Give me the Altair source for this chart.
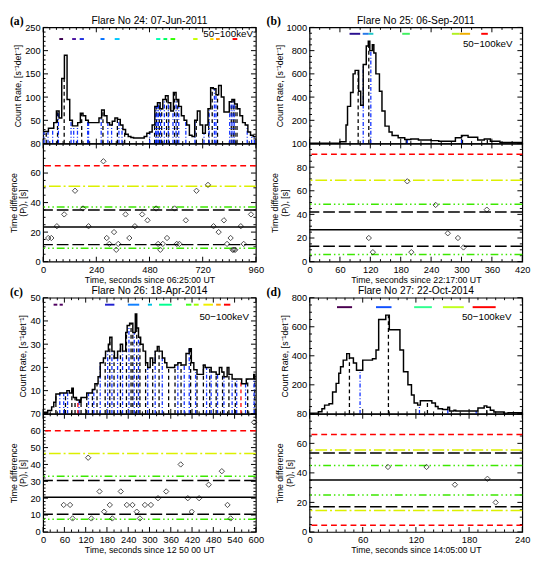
import bisect
import altair as alt
import pandas as pd

FONT = "Liberation Sans"
W = 218
HT = 119
HB = 121
GAP = 37

# ---------------- Panel (a) ----------------
a_title = "Flare No 24: 07-Jun-2011"
a_xlabel = "Time, seconds since 06:25:00 UT"
a_t = list(range(0, 960, 12))
a_rate = [26, 26, 33, 33, 45, 70, 55, 140, 190, 95,
          50, 38, 38, 45, 65, 60, 50, 45, 45, 45,
          45, 55, 72, 60, 45, 40, 48, 55, 52, 40,
          30, 20, 15, 13, 12, 12, 12, 12, 15, 22,
          25, 40, 80, 88, 75, 95, 103, 88, 70, 110,
          95, 80, 60, 50, 40, 18, 15, 50, 70, 40,
          22, 40, 75, 120, 118, 105, 125, 100, 68, 68,
          90, 95, 85, 75, 60, 45, 40, 25, 18, 15]
a_black = [14, 65, 95, 174, 270, 335, 368, 503, 512, 524, 535, 557, 567, 593, 605,
           691, 747, 763, 787, 849, 858, 866, 875]
a_blue = [4, 22, 43, 69, 126, 138, 155, 201, 205, 262, 292, 309, 342, 356, 481, 508,
          514, 520, 530, 547, 565, 586, 600, 612, 644, 685, 726, 749, 773, 780, 842,
          852, 862, 921, 941, 953]
a_red = []
a_seg_t0 = [73, 131, 165, 259, 323, 510, 543, 575, 677, 754, 780, 855]
a_seg_t1 = [90, 148, 184, 277, 345, 529, 560, 596, 697, 769, 797, 876]
a_seg_c = ["#3c0050", "#4a10a0", "#2030e0", "#0070ff", "#00c8ff", "#00ffb0",
           "#00ff60", "#30ff00", "#c8ff00", "#ffe000", "#ff9800", "#ff0000"]
a_seg_lvl = 225
a_pt_t = [23, 37, 62, 95, 144, 180, 205, 272, 287, 299, 320, 330, 339, 372, 389, 414,
          447, 471, 510, 519, 529, 540, 559, 593, 603, 615, 644, 692, 744, 769, 792,
          816, 830, 846, 855, 861, 867, 892, 905, 938]
a_pt_v = [16, 16, 24, 32, 48, 36, 24, 68, 16, 12, 20, 8, 12, 32, 16, 24,
          32, 28, 36, 12, 8, 12, 16, 36, 12, 12, 28, 48, 52, 24, 20,
          28, 12, 16, 8, 8, 8, 24, 12, 32]
a_hl_v = [65, 51, 37, 35, 23.5, 11.5, 9]
a_hl_c = ["red", "yellow", "green", "black", "black", "black", "green"]
a_hl_s = ["dash", "dashdot", "dash3dot", "longdash", "solid", "longdash", "dash3dot"]

# ---------------- Panel (b) ----------------
b_title = "Flare No 25: 06-Sep-2011"
b_xlabel = "Time, seconds since 22:17:00 UT"
b_t = [0, 60, 72, 75, 81, 86, 90, 97, 101, 106, 112, 116, 119, 124, 127, 131, 138,
       143, 149, 157, 163, 175, 188, 200, 215, 240, 255, 288, 300, 313, 332, 345, 357, 376]
b_rate = [3, 15, 160, 320, 440, 600, 630, 450, 330, 680, 840, 880, 800, 850, 780, 600,
          450, 280, 150, 100, 70, 50, 35, 40, 30, 25, 20, 50, 70, 55, 30, 40, 20, 10]
b_black = [96, 117, 191, 302, 351]
b_blue = [106, 121, 193, 300]
b_red = []
b_seg_t0 = [79, 105, 117, 183, 281, 296, 339]
b_seg_t1 = [100, 117, 126, 198, 296, 317, 352]
b_seg_c = ["#2a1090", "#2878e8", "#20c8c8", "#40f060", "#b0f020", "#f0b000", "#ff0000"]
b_seg_lvl = 945
b_pt_t = [117, 125, 193, 201, 249, 273, 293, 304, 350]
b_pt_v = [20, 8, 68, 8, 48, 24, 20, 12, 44]
b_hl_v = [91, 69, 48.5, 42, 27, 13, 6]
b_hl_c = ["red", "yellow", "green", "black", "black", "black", "green"]
b_hl_s = ["dash", "dashdot", "dash3dot", "longdash", "solid", "longdash", "dash3dot"]

# ---------------- Panel (c) ----------------
c_title = "Flare No 26: 18-Apr-2014"
c_xlabel = "Time, seconds since 12 50 00 UT"
c_t = [0, 13, 24, 30, 36, 47, 67, 74, 81, 85, 94, 103, 107, 123, 139, 146, 155, 161,
       170, 176, 184, 188, 194, 201, 210, 218, 224, 233, 237, 244, 253, 260, 264, 269,
       275, 282, 289, 295, 302, 309, 316, 322, 327, 336, 343, 349, 371, 380, 389, 403,
       412, 418, 425, 434, 452, 457, 474, 488, 497, 504, 510, 519, 524, 533, 560, 573,
       594, 597]
c_rate = [0.7, 1.4, 3, 5, 8.5, 9, 10, 9, 11, 7, 6, 5, 7, 9, 10.5, 13, 16, 22,
          24, 27, 30, 33, 27, 24, 27, 30, 27, 35, 38, 39, 35, 43, 37, 33,
          30, 27, 22, 20, 24, 22, 27, 29, 27, 24, 22, 20, 21, 22, 21, 26,
          28, 22, 19, 17, 21, 20, 18, 17, 20, 18, 16, 20, 17, 15, 13, 15,
          17, 15]
c_black = [36, 63, 81, 90, 107, 123, 139, 152, 175, 188, 200, 218, 235, 248, 253, 264,
           273, 289, 309, 327, 354, 372, 389, 416, 434, 452, 470, 488, 506, 524, 542,
           577, 597]
c_blue = [47, 58, 69, 101, 128, 143, 161, 182, 194, 210, 224, 242, 257, 269, 295, 316,
          336, 380, 398, 412, 430, 461, 474, 492, 510, 533, 546, 571, 595]
c_red = [98, 558]
c_seg_t0 = [29.5, 46.5, 174.6, 239, 295.4, 327, 403, 425, 452, 488, 510]
c_seg_t1 = [40, 55.5, 201, 271, 307, 362.6, 418, 438.7, 479, 501, 528]
c_seg_c = ["#500060", "#500060", "#2020d0", "#1080ff", "#00c0e0", "#00ff90",
           "#40ff20", "#a0ff00", "#f0f000", "#ffa000", "#ff0000"]
c_seg_lvl = 47
c_pt_t = [58, 76, 83, 127, 136, 159, 172, 188, 195, 219, 236, 252, 264, 273, 287, 304,
          324, 347, 388, 408, 419, 440, 467, 504, 520, 529, 595]
c_pt_v = [16, 16, 8, 44, 8, 24, 12, 16, 8, 24, 16, 16, 12, 8, 16, 16,
          20, 24, 40, 20, 12, 20, 28, 36, 16, 8, 65]
c_hl_v = [60, 46.5, 33, 30.5, 20.5, 10.5, 7.5]
c_hl_c = ["red", "yellow", "green", "black", "black", "black", "green"]
c_hl_s = ["dash", "dashdot", "dash3dot", "longdash", "solid", "longdash", "dash3dot"]

# ---------------- Panel (d) ----------------
d_title = "Flare No 27: 22-Oct-2014"
d_xlabel = "Time, seconds since 14:05:00 UT"
d_t = [0, 10, 14, 17, 22, 26, 30, 33, 35, 38, 42, 45, 49.5, 53, 60, 71, 75, 78, 86, 90,
       102, 106, 111, 115, 118, 122, 125, 138, 142, 145, 150, 156, 158, 163, 165, 190,
       197, 200, 204, 208, 219, 224]
d_rate = [5, 15, 35, 60, 70, 150, 210, 280, 325, 370, 415, 385, 350, 300, 370, 380,
          440, 650, 680, 580, 440, 290, 200, 130, 75, 60, 90, 75, 50, 35, 30, 45, 20,
          25, 20, 40, 55, 45, 25, 12, 5, 8]
d_black = [45, 89, 133, 200]
d_blue = [57, 124, 156, 188]
d_red = []
d_seg_t0 = [31, 75, 118, 150.5, 184]
d_seg_t1 = [48, 92.5, 138, 174, 210]
d_seg_c = ["#4a0050", "#1050ff", "#30ff90", "#c0ff20", "#ff0000"]
d_seg_lvl = 735
d_pt_t = [88.5, 132, 164, 200.7, 210]
d_pt_v = [44, 44, 32, 36, 20]
d_hl_v = [66, 55.5, 53.5, 45, 35.2, 25, 17, 14.5, 4.5]
d_hl_c = ["red", "yellow", "black", "green", "black", "green", "black", "yellow", "red"]
d_hl_s = ["dash", "dashdot", "longdash", "dash3dot", "solid", "dash3dot", "longdash",
          "dashdot", "dash"]

DASH = {"dash": [6, 4], "dashdot": [12, 3, 2, 3], "dash3dot": [8, 3, 1.5, 3, 1.5, 3, 1.5, 3],
        "longdash": [12, 4]}
COL = {"red": "#ff0000", "yellow": "#dcf000", "green": "#3ce800", "black": "#000000"}


def frange(step, vmax):
    n = int(round(vmax / step))
    return [round(i * step, 6) for i in range(n + 1)]


def is_major(v, maj):
    q = v / maj
    return abs(q - round(q)) < 1e-6


def tick_frame(xmax, xmaj, xmin, ymax, ymaj, ymin, h):
    rows = []
    for v in frange(xmin, xmax):
        L = (5 if is_major(v, xmaj) else 2.5) * ymax / h
        rows.append(dict(x=v, x2=v, y=0, y2=L))
        rows.append(dict(x=v, x2=v, y=ymax, y2=ymax - L))
    for v in frange(ymin, ymax):
        L = (5 if is_major(v, ymaj) else 2.5) * xmax / W
        rows.append(dict(x=0, x2=L, y=v, y2=v))
        rows.append(dict(x=xmax, x2=xmax - L, y=v, y2=v))
    return pd.DataFrame(rows)


def step_at(ts, rs, t):
    i = bisect.bisect_right(ts, t) - 1
    return rs[max(i, 0)]


def axis_style(**kw):
    base = dict(ticks=False, domain=False, grid=False, labelFont=FONT, labelFontSize=9.5,
                labelPadding=3, labelFlush=False, labelOverlap=False, labelColor="black",
                titleFont=FONT, titleFontSize=9, titleFontWeight="normal", titleColor="black",
                titlePadding=2, format="d")
    base.update(kw)
    return alt.Axis(**base)


def panel(letter, letter_dx, title, xlabel, xmax, xmaj, xmin, t, rate, tend,
          black, blue, red, seg_t0, seg_t1, seg_c, seg_lvl,
          ytop, ytmaj, ytmin, ybot, ybmaj, ybmin,
          pt_t, pt_v, hl_v, hl_c, hl_s, key_dx, key_dy):
    xs = alt.Scale(domain=[0, xmax], nice=False, zero=False)
    # ---------- top ----------
    yts = alt.Scale(domain=[0, ytop], nice=False, zero=False)
    yta = axis_style(values=frange(ytmaj, ytop), title="Count Rate, [s⁻¹det⁻¹]",
                     labelExpr="datum.value == 0 ? '' : datum.label")
    XT = lambda f: alt.X(f, type="quantitative", scale=xs, axis=None)
    YT = lambda f: alt.Y(f, type="quantitative", scale=yts, axis=yta)

    tk = tick_frame(xmax, xmaj, xmin, ytop, ytmaj, ytmin, HT)
    layers = [alt.Chart(tk).mark_rule(color="black", strokeWidth=1).encode(
        x=XT("x"), x2="x2", y=YT("y"), y2="y2")]
    for times, col, dash in [(black, "black", [4, 3]), (blue, "#1030ff", [4, 2, 1, 2]),
                             (red, "#ff0000", [4, 3])]:
        if not times:
            continue
        df = pd.DataFrame({"t": times, "y0": [0] * len(times),
                           "top": [step_at(t, rate, v) for v in times]})
        layers.append(alt.Chart(df).mark_rule(color=col, strokeDash=dash, strokeWidth=1.3)
                      .encode(x=XT("t"), y=YT("y0"), y2="top"))
    hist = pd.DataFrame({"t": list(t) + [tend], "rate": list(rate) + [rate[-1]]})
    layers.append(alt.Chart(hist).mark_line(interpolate="step-after", color="black",
                                            strokeWidth=1.5)
                  .encode(x=XT("t"), y=YT("rate")))
    seg = pd.DataFrame({"t0": seg_t0, "t1": seg_t1, "c": seg_c, "lvl": [seg_lvl] * len(seg_c)})
    layers.append(alt.Chart(seg).mark_rule(strokeWidth=2)
                  .encode(x=XT("t0"), x2="t1", y=YT("lvl"),
                          color=alt.Color("c:N", scale=None)))
    layers.append(alt.Chart(pd.DataFrame({"s": ["50−100keV"]}))
                  .mark_text(font=FONT, fontSize=10, align="right", baseline="middle",
                             color="black")
                  .encode(text="s:N", x=alt.value(W - key_dx), y=alt.value(key_dy)))
    layers.append(alt.Chart(pd.DataFrame({"s": [letter]}))
                  .mark_text(font="Liberation Serif", fontSize=12, fontWeight="bold",
                             align="left", baseline="middle", color="black")
                  .encode(text="s:N", x=alt.value(letter_dx), y=alt.value(-6)))
    layers.append(alt.Chart(pd.DataFrame({"s": [title]}))
                  .mark_text(font=FONT, fontSize=10.5, align="center", baseline="middle",
                             color="black")
                  .encode(text="s:N", x=alt.value(W / 2), y=alt.value(-7)))
    top = alt.layer(*layers).properties(width=W, height=HT)

    # ---------- bottom ----------
    ybs = alt.Scale(domain=[0, ybot], nice=False, zero=False)
    xba = axis_style(values=frange(xmaj, xmax), title=xlabel)
    yba = axis_style(values=frange(ybmaj, ybot), title=["Time difference", "(Pᵢ), [s]"],
                     titleLineHeight=10)
    XB = lambda f: alt.X(f, type="quantitative", scale=xs, axis=xba)
    YB = lambda f: alt.Y(f, type="quantitative", scale=ybs, axis=yba)
    tkb = tick_frame(xmax, xmaj, xmin, ybot, ybmaj, ybmin, HB)
    bl = [alt.Chart(tkb).mark_rule(color="black", strokeWidth=1).encode(
        x=XB("x"), x2="x2", y=YB("y"), y2="y2")]
    for v, c, s in zip(hl_v, hl_c, hl_s):
        kw = dict(color=COL[c], strokeWidth=1.5)
        if s != "solid":
            kw["strokeDash"] = DASH[s]
        bl.append(alt.Chart(pd.DataFrame({"v": [v]})).mark_rule(**kw).encode(y=YB("v")))
    pts = pd.DataFrame({"t": pt_t, "v": pt_v})
    bl.append(alt.Chart(pts).mark_point(shape="diamond", filled=False, color="black",
                                        size=30, strokeWidth=1)
              .encode(x=XB("t"), y=YB("v")))
    bottom = alt.layer(*bl).properties(width=W, height=HB)
    return top, bottom


def spacer():
    return alt.Chart(pd.DataFrame({"v": [0]})).mark_point(opacity=0).encode(
        x=alt.X("v:Q", axis=None), y=alt.Y("v:Q", axis=None)
    ).properties(width=W, height=GAP, view={"stroke": "transparent"})


a_top, a_bot = panel("(a)", -34, a_title, a_xlabel, 960, 240, 30, a_t, a_rate, 960,
                     a_black, a_blue, a_red, a_seg_t0, a_seg_t1, a_seg_c, a_seg_lvl,
                     250, 50, 10, 80, 20, 5, a_pt_t, a_pt_v, a_hl_v, a_hl_c, a_hl_s, 3, 7)
b_top, b_bot = panel("(b)", -44, b_title, b_xlabel, 420, 60, 20, b_t, b_rate, 420,
                     b_black, b_blue, b_red, b_seg_t0, b_seg_t1, b_seg_c, b_seg_lvl,
                     1000, 200, 50, 100, 20, 5, b_pt_t, b_pt_v, b_hl_v, b_hl_c, b_hl_s, 10, 17)
c_top, c_bot = panel("(c)", -34, c_title, c_xlabel, 600, 60, 20, c_t, c_rate, 600,
                     c_black, c_blue, c_red, c_seg_t0, c_seg_t1, c_seg_c, c_seg_lvl,
                     50, 10, 2, 70, 10, 2, c_pt_t, c_pt_v, c_hl_v, c_hl_c, c_hl_s, 7, 20)
d_top, d_bot = panel("(d)", -44, d_title, d_xlabel, 240, 60, 10, d_t, d_rate, 240,
                     d_black, d_blue, d_red, d_seg_t0, d_seg_t1, d_seg_c, d_seg_lvl,
                     800, 200, 50, 80, 20, 5, d_pt_t, d_pt_v, d_hl_v, d_hl_c, d_hl_s, 11, 20)

chart = alt.concat(
    a_top, b_top, a_bot, b_bot, spacer(), spacer(), c_top, d_top, c_bot, d_bot,
    columns=2, spacing={"row": 0, "column": 55}, bounds="flush",
).properties(
    padding={"left": 0, "top": 0, "right": 2, "bottom": 2},
    background="white",
).configure_view(stroke="black", strokeWidth=1.2)

chart.save("out.html", embed_options={"renderer": "svg", "actions": False})
